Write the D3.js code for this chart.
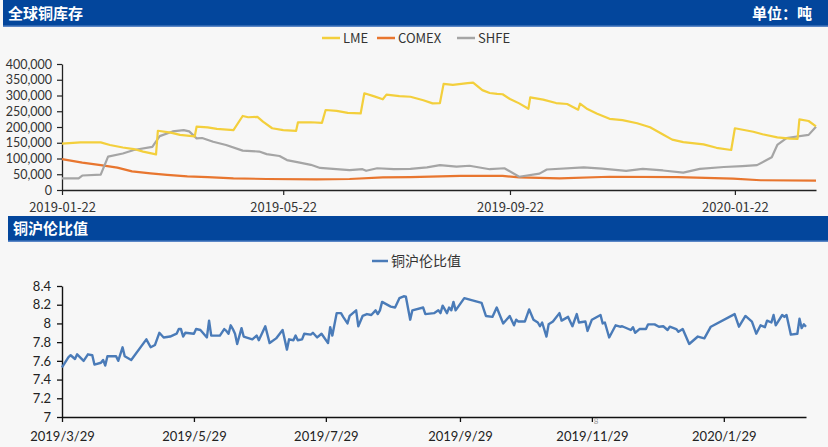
<!DOCTYPE html>
<html><head><meta charset="utf-8">
<script src="https://cdn.jsdelivr.net/npm/d3@7"></script>
<style>body{margin:0;background:#f7f7f7}svg{display:block}</style>
</head><body>
<svg id="c" width="828" height="447"></svg>
<script>
// ---------- Data: global copper inventories (tonnes) ----------
const seriesNames = ["LME", "COMEX", "SHFE"];
const seriesColors = ["#f3cf3c", "#e8762f", "#a5a5a5"];

const lmeDates = ["2019-01-22","2019-02-01","2019-02-12","2019-02-17","2019-02-24","2019-03-02","2019-03-07","2019-03-14","2019-03-15","2019-03-22","2019-03-27","2019-04-04","2019-04-05","2019-04-11","2019-04-16","2019-04-25","2019-04-30","2019-05-03","2019-05-08","2019-05-11","2019-05-16","2019-05-22","2019-05-29","2019-05-30","2019-06-06","2019-06-12","2019-06-14","2019-06-20","2019-06-26","2019-07-03","2019-07-05","2019-07-10","2019-07-15","2019-07-17","2019-07-24","2019-07-30","2019-08-06","2019-08-11","2019-08-15","2019-08-17","2019-08-22","2019-08-30","2019-09-02","2019-09-07","2019-09-11","2019-09-15","2019-09-18","2019-09-22","2019-09-27","2019-10-02","2019-10-03","2019-10-10","2019-10-17","2019-10-23","2019-10-29","2019-10-30","2019-11-03","2019-11-08","2019-11-15","2019-11-22","2019-11-30","2019-12-07","2019-12-14","2019-12-19","2019-12-25","2020-01-05","2020-01-12","2020-01-20","2020-01-22","2020-02-01","2020-02-06","2020-02-14","2020-02-21","2020-02-25","2020-02-26","2020-03-02","2020-03-06"];
const lmeValues = [147000,151000,151000,143000,135000,130000,122000,113000,188000,182000,175000,170000,201000,199000,194000,190000,235000,231000,232000,217000,196000,190000,188000,215000,215000,213000,254000,251000,245000,243000,307000,298000,288000,303000,298000,296000,285000,275000,276000,337000,334000,339000,341000,317000,308000,305000,304000,289000,275000,258000,294000,287000,276000,273000,255000,274000,257000,243000,226000,222000,212000,199000,176000,160000,152000,145000,134000,127000,196000,185000,177000,167000,163000,162000,224000,219000,202000];

const comexDates = ["2019-01-22","2019-02-02","2019-02-12","2019-02-21","2019-03-01","2019-03-11","2019-03-20","2019-03-31","2019-04-11","2019-04-25","2019-05-13","2019-06-09","2019-06-27","2019-07-15","2019-07-30","2019-08-26","2019-09-18","2019-09-27","2019-10-19","2019-11-15","2019-12-22","2020-01-21","2020-02-05","2020-03-06"];
const comexValues = [98000,87000,79000,71000,59000,53000,48000,43000,41000,37000,35000,34000,35000,40000,41000,45000,45000,40000,37000,42000,41000,36000,31000,30000];

const shfeDates = ["2019-01-22","2019-01-31","2019-02-02","2019-02-12","2019-02-16","2019-02-24","2019-03-02","2019-03-12","2019-03-16","2019-03-23","2019-03-29","2019-04-01","2019-04-05","2019-04-08","2019-04-14","2019-04-21","2019-04-30","2019-05-09","2019-05-13","2019-05-20","2019-05-24","2019-05-31","2019-06-06","2019-06-11","2019-06-18","2019-06-27","2019-07-04","2019-07-06","2019-07-12","2019-07-21","2019-07-30","2019-08-08","2019-08-15","2019-08-24","2019-08-31","2019-09-11","2019-09-19","2019-09-27","2019-10-08","2019-10-12","2019-11-01","2019-11-11","2019-11-24","2019-12-03","2019-12-14","2019-12-25","2020-01-03","2020-01-16","2020-01-26","2020-02-03","2020-02-11","2020-02-14","2020-02-19","2020-03-02","2020-03-06"];
const shfeValues = [37000,37000,46000,49000,106000,116000,127000,137000,171000,186000,190000,186000,164000,165000,153000,143000,125000,122000,114000,108000,95000,87000,80000,70000,67000,63000,66000,61000,69000,66000,67000,72000,79000,74000,77000,66000,69000,42000,52000,65000,72000,68000,61000,67000,62000,55000,67000,73000,76000,79000,104000,143000,165000,175000,201000];

const topTickDates = ["2019-01-22","2019-05-22","2019-09-22","2020-01-22"];
const topYTicks = [0,50000,100000,150000,200000,250000,300000,350000,400000];

// ---------- Data: SHFE / LME copper price ratio ----------
const ratioName = "铜沪伦比值";
const ratioDates = ["2019-03-29","2019-04-01","2019-04-02","2019-04-04","2019-04-05","2019-04-08","2019-04-10","2019-04-12","2019-04-13","2019-04-16","2019-04-17","2019-04-18","2019-04-19","2019-04-23","2019-04-24","2019-04-26","2019-04-27","2019-04-30","2019-05-07","2019-05-09","2019-05-11","2019-05-13","2019-05-15","2019-05-18","2019-05-21","2019-05-22","2019-05-23","2019-05-24","2019-05-25","2019-05-29","2019-05-30","2019-06-01","2019-06-04","2019-06-05","2019-06-06","2019-06-10","2019-06-12","2019-06-13","2019-06-14","2019-06-15","2019-06-16","2019-06-17","2019-06-18","2019-06-20","2019-06-21","2019-06-25","2019-06-27","2019-06-28","2019-07-01","2019-07-03","2019-07-06","2019-07-09","2019-07-11","2019-07-12","2019-07-14","2019-07-15","2019-07-16","2019-07-18","2019-07-19","2019-07-22","2019-07-23","2019-07-25","2019-07-27","2019-07-30","2019-07-31","2019-08-01","2019-08-03","2019-08-05","2019-08-06","2019-08-08","2019-08-09","2019-08-12","2019-08-13","2019-08-15","2019-08-17","2019-08-19","2019-08-21","2019-08-22","2019-08-23","2019-08-24","2019-08-28","2019-08-30","2019-09-01","2019-09-03","2019-09-04","2019-09-06","2019-09-07","2019-09-12","2019-09-13","2019-09-17","2019-09-19","2019-09-20","2019-09-21","2019-09-23","2019-09-24","2019-09-25","2019-09-26","2019-09-27","2019-10-01","2019-10-09","2019-10-11","2019-10-14","2019-10-16","2019-10-19","2019-10-22","2019-10-24","2019-10-25","2019-10-26","2019-10-29","2019-10-31","2019-11-02","2019-11-04","2019-11-05","2019-11-06","2019-11-08","2019-11-09","2019-11-11","2019-11-14","2019-11-15","2019-11-18","2019-11-20","2019-11-22","2019-11-23","2019-11-26","2019-11-27","2019-11-29","2019-12-03","2019-12-04","2019-12-05","2019-12-07","2019-12-10","2019-12-12","2019-12-13","2019-12-17","2019-12-18","2019-12-19","2019-12-21","2019-12-24","2019-12-25","2019-12-28","2019-12-30","2020-01-01","2020-01-03","2020-01-04","2020-01-07","2020-01-08","2020-01-10","2020-01-13","2020-01-17","2020-01-20","2020-01-23","2020-02-03","2020-02-05","2020-02-08","2020-02-11","2020-02-13","2020-02-15","2020-02-17","2020-02-18","2020-02-20","2020-02-21","2020-02-22","2020-02-25","2020-02-26","2020-02-27","2020-02-29","2020-03-03","2020-03-04","2020-03-05","2020-03-06","2020-03-07"];
const ratioValues = [7.53,7.64,7.66,7.62,7.67,7.60,7.67,7.66,7.56,7.58,7.61,7.55,7.65,7.65,7.60,7.745,7.65,7.61,7.83,7.745,7.77,7.90,7.85,7.86,7.89,7.94,7.94,7.86,7.90,7.89,7.94,7.93,7.85,8.03,7.87,7.87,7.94,7.92,7.89,7.98,7.94,7.89,7.78,7.95,7.86,7.83,7.87,7.82,7.97,7.79,7.84,7.93,7.72,7.83,7.82,7.87,7.82,7.83,7.89,7.88,7.90,7.85,7.89,7.79,7.96,7.87,8.11,8.11,8.07,8.00,8.08,8.14,7.97,8.08,8.10,8.09,8.14,8.10,8.14,8.23,8.18,8.17,8.27,8.29,8.285,8.04,8.14,8.17,8.10,8.11,8.14,8.11,8.19,8.11,8.17,8.14,8.23,8.14,8.27,8.22,8.08,8.07,8.17,8.00,8.08,7.98,8.04,8.02,8.02,8.15,8.04,8.01,7.97,8.01,7.86,7.99,8.02,8.11,8.03,8.07,7.97,8.10,8.01,8.02,7.92,8.04,8.09,8.00,8.01,7.85,7.98,7.965,7.97,7.93,7.96,7.90,7.94,7.94,7.99,7.99,7.965,7.97,7.93,7.965,7.94,7.91,7.94,7.78,7.86,7.84,7.965,8.10,7.965,8.08,8.02,7.89,7.98,7.96,8.03,8.01,8.09,7.98,8.09,8.07,8.09,7.88,7.89,8.05,7.95,7.99,7.965];
const bottomTickDates = ["2019-03-29","2019-05-29","2019-07-29","2019-09-29","2019-11-29","2020-01-29"];
const bottomTickLabels = ["2019/3/29","2019/5/29","2019/7/29","2019/9/29","2019/11/29","2020/1/29"];
const bottomYTicks = [7,7.2,7.4,7.6,7.8,8,8.2,8.4];

// ---------- Drawing ----------
const parse = d3.timeParse("%Y-%m-%d");
const svg = d3.select("#c");
const CJK = "'Noto Sans CJK SC','Noto Sans',sans-serif";
const NUM = "Lato,'Liberation Sans',sans-serif";
const BLUE = "#03469c";

svg.append("rect").attr("width",828).attr("height",447).attr("fill","#f7f7f7");

function header(x, y, w, h, title, right) {
  svg.append("rect").attr("x",x).attr("y",y).attr("width",w).attr("height",h).attr("fill",BLUE);
  svg.append("rect").attr("x",x).attr("y",y+h-1.5).attr("width",w).attr("height",1.5).attr("fill","#5a86c6");
  svg.append("text").attr("x",x+5).attr("y",y+h/2+5).attr("fill","#fff")
    .attr("font-family",CJK).attr("font-weight",700).attr("font-size",15).text(title);
  if (right) svg.append("text").attr("x",812).attr("y",y+h/2+5).attr("text-anchor","end").attr("fill","#fff")
    .attr("font-family",CJK).attr("font-weight",700).attr("font-size",15).text(right);
}
header(3, 0, 825, 27, "全球铜库存", "单位：吨");
header(8, 216, 820, 26, "铜沪伦比值", null);

// ----- top chart -----
const xTop = d3.scaleTime().domain([parse("2019-01-22"), parse("2020-03-06")]).range([62, 816]);
const yTop = d3.scaleLinear().domain([0, 400000]).range([190, 64]);

const gyTop = svg.append("g").attr("transform","translate(62,0)")
  .call(d3.axisLeft(yTop).tickValues(topYTicks).tickFormat(d3.format(",")).tickSize(5).tickSizeOuter(0));
const gxTop = svg.append("g").attr("transform","translate(0,190)")
  .call(d3.axisBottom(xTop).tickValues(topTickDates.map(parse)).tickFormat(d3.timeFormat("%Y-%m-%d")).tickSize(5).tickSizeOuter(0));
[gyTop, gxTop].forEach(g => {
  g.select(".domain").attr("stroke","#222").attr("stroke-width",1.3);
  g.selectAll(".tick line").attr("stroke","#222").attr("stroke-width",1.2);
  g.selectAll("text").attr("fill","#333").attr("font-family",CJK).attr("font-size",13);
});
gyTop.selectAll("text").attr("x",-10).attr("font-family",NUM).attr("font-size",12.5);
gxTop.selectAll("text").attr("dy","1.05em");

const topSeries = [
  {dates: lmeDates, values: lmeValues},
  {dates: comexDates, values: comexValues},
  {dates: shfeDates, values: shfeValues}
];
const lineTop = d3.line().x(d => xTop(d[0])).y(d => yTop(d[1]));
[1,2,0].forEach(i => {
  const s = topSeries[i];
  const pts = s.dates.map((d,j) => [parse(d), s.values[j]]);
  svg.append("path").datum(pts).attr("d", lineTop).attr("fill","none")
    .attr("stroke", seriesColors[i]).attr("stroke-width",2.2).attr("stroke-linejoin","round");
});

// legend top
const legX = [322, 377, 457];
seriesNames.forEach((n,i) => {
  svg.append("line").attr("x1",legX[i]).attr("x2",legX[i]+18).attr("y1",38).attr("y2",38)
    .attr("stroke",seriesColors[i]).attr("stroke-width",2.5);
  svg.append("text").attr("x",legX[i]+21).attr("y",42.5).attr("fill","#333")
    .attr("font-family",CJK).attr("font-size",13).text(n);
});

// ----- bottom chart -----
const xBot = d3.scaleTime().domain([parse("2019-03-29"), parse("2020-03-07")]).range([62, 806]);
const yBot = d3.scaleLinear().domain([7, 8.4]).range([417, 286]);
const gyBot = svg.append("g").attr("transform","translate(62,0)")
  .call(d3.axisLeft(yBot).tickValues(bottomYTicks).tickFormat(d => String(+d.toFixed(1))).tickSize(5).tickSizeOuter(0));
const gxBot = svg.append("g").attr("transform","translate(0,417)")
  .call(d3.axisBottom(xBot).tickValues(bottomTickDates.map(parse)).tickFormat((d,i) => bottomTickLabels[i]).tickSize(5).tickSizeOuter(0));
[gyBot, gxBot].forEach(g => {
  g.select(".domain").attr("stroke","#111").attr("stroke-width",1.4);
  g.selectAll(".tick line").attr("stroke","#111").attr("stroke-width",1.3);
  g.selectAll("text").attr("fill","#222").attr("font-family",NUM).attr("font-size",13);
});
gyBot.selectAll("text").attr("x",-11);
gxBot.selectAll("text").attr("dy","1.2em");

const ratioPts = ratioDates.map((d,i) => [parse(d), ratioValues[i]]);
svg.append("path").datum(ratioPts)
  .attr("d", d3.line().x(d => xBot(d[0])).y(d => yBot(d[1])))
  .attr("fill","none").attr("stroke","#4a7bb8").attr("stroke-width",2.4).attr("stroke-linejoin","round");

// legend bottom
svg.append("line").attr("x1",372).attr("x2",388).attr("y1",261).attr("y2",261)
  .attr("stroke","#4a7bb8").attr("stroke-width",2.5);
svg.append("text").attr("x",391).attr("y",266).attr("fill","#333")
  .attr("font-family",CJK).attr("font-size",14).text(ratioName);

// page number
svg.append("text").attr("x",596).attr("y",424).attr("text-anchor","middle").attr("fill","#999")
  .attr("font-family",NUM).attr("font-size",8).text("8");
</script>
</body></html>
